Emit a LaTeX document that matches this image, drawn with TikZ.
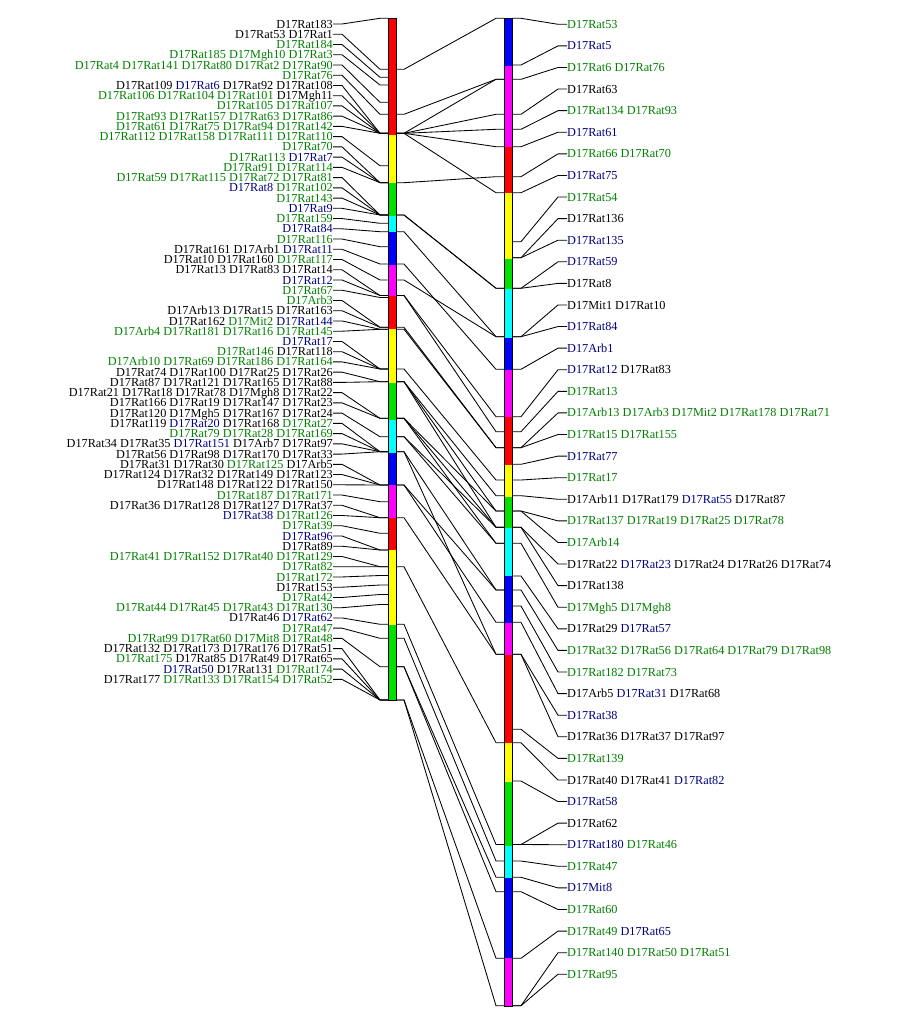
\documentclass[tikz,border=0pt]{standalone}
\usepackage{fontspec}
\setmainfont{Liberation Serif}
\usetikzlibrary{calc}
\definecolor{tg}{RGB}{0,128,0}
\definecolor{tb}{RGB}{0,0,128}
\definecolor{bred}{RGB}{255,0,0}
\definecolor{byel}{RGB}{255,255,0}
\definecolor{bgrn}{RGB}{0,224,0}
\definecolor{bcya}{RGB}{0,255,255}
\definecolor{bblu}{RGB}{0,0,255}
\definecolor{bmag}{RGB}{255,0,255}
\newcommand{\cG}[1]{\textcolor{tg}{#1}}
\newcommand{\cB}[1]{\textcolor{tb}{#1}}
\begin{document}
\begin{tikzpicture}[x=1pt,y=-1pt,
  lab/.style={inner sep=0pt, font=\fontsize{12.25}{14}\selectfont, text height=8.1pt, text depth=0pt},
  con/.style={line width=0.85pt, black},
  barframe/.style={line width=1pt, black}]
\useasboundingbox[fill=white] (0,0) rectangle (900,1025);

% ---------- left map labels ----------
\foreach \i/\m/\txt in {
1/18.3/{D17Rat183},
2/69.3/{D17Rat53 D17Rat1},
3/77.3/{\cG{D17Rat184}},
4/85/{\cG{D17Rat185 D17Mgh10 D17Rat3}},
5/102.3/{\cG{D17Rat4 D17Rat141 D17Rat80 D17Rat2 D17Rat90}},
6/114.3/{\cG{D17Rat76}},
7/133.3/{D17Rat109 \cB{D17Rat6} D17Rat92 D17Rat108},
8/133.3/{\cG{D17Rat106 D17Rat104 D17Rat101} D17Mgh11},
9/133.3/{\cG{D17Rat105 D17Rat107}},
10/133.3/{\cG{D17Rat93 D17Rat157 D17Rat63 D17Rat86}},
11/133.3/{\cG{D17Rat61 D17Rat75 D17Rat94 D17Rat142}},
12/165.7/{\cG{D17Rat112 D17Rat158 D17Rat111 D17Rat110}},
13/182.7/{\cG{D17Rat70}},
14/182.7/{\cG{D17Rat113} \cB{D17Rat7}},
15/182.7/{\cG{D17Rat91 D17Rat114}},
16/215/{\cG{D17Rat59 D17Rat115 D17Rat72 D17Rat81}},
17/215/{\cB{D17Rat8} \cG{D17Rat102}},
18/215/{\cG{D17Rat143}},
19/215/{\cB{D17Rat9}},
20/223.3/{\cG{D17Rat159}},
21/231.7/{\cB{D17Rat84}},
22/246.7/{\cG{D17Rat116}},
23/264/{D17Rat161 D17Arb1 \cB{D17Rat11}},
24/280/{D17Rat10 D17Rat160 \cG{D17Rat117}},
25/295.5/{D17Rat13 D17Rat83 D17Rat14},
26/295.5/{\cB{D17Rat12}},
27/297.5/{\cG{D17Rat67}},
28/327.3/{\cG{D17Arb3}},
29/327.3/{D17Arb13 D17Rat15 D17Rat163},
30/329.3/{D17Rat162 \cG{D17Mit2} \cB{D17Rat144}},
31/329.3/{\cG{D17Arb4 D17Rat181 D17Rat16 D17Rat145}},
32/369/{\cB{D17Rat17}},
33/369/{\cG{D17Rat146} D17Rat118},
34/369/{\cG{D17Arb10 D17Rat69 D17Rat186 D17Rat164}},
35/381.7/{D17Rat74 D17Rat100 D17Rat25 D17Rat26},
36/381.7/{D17Rat87 D17Rat121 D17Rat165 D17Rat88},
37/418.3/{D17Rat21 D17Rat18 D17Rat78 D17Mgh8 D17Rat22},
38/418.3/{D17Rat166 D17Rat19 D17Rat147 D17Rat23},
39/436.7/{D17Rat120 D17Mgh5 D17Rat167 D17Rat24},
40/451.7/{D17Rat119 \cB{D17Rat20} D17Rat168 \cG{D17Rat27}},
41/451.7/{\cG{D17Rat79 D17Rat28 D17Rat169}},
42/451.7/{D17Rat34 D17Rat35 \cB{D17Rat151} D17Arb7 D17Rat97},
43/451.7/{D17Rat56 D17Rat98 D17Rat170 D17Rat33},
44/485/{D17Rat31 D17Rat30 \cG{D17Rat125} D17Arb5},
45/485/{D17Rat124 D17Rat32 D17Rat149 D17Rat123},
46/485/{D17Rat148 D17Rat122 D17Rat150},
47/501.7/{\cG{D17Rat187 D17Rat171}},
48/517.7/{D17Rat36 D17Rat128 D17Rat127 D17Rat37},
49/517.7/{\cB{D17Rat38} \cG{D17Rat126}},
50/533.3/{\cG{D17Rat39}},
51/550/{\cB{D17Rat96}},
52/550/{D17Rat89},
53/566.7/{\cG{D17Rat41 D17Rat152 D17Rat40 D17Rat129}},
54/566.7/{\cG{D17Rat82}},
55/575.5/{\cG{D17Rat172}},
56/585/{D17Rat153},
57/594.5/{\cG{D17Rat42}},
58/604.5/{\cG{D17Rat44 D17Rat45 D17Rat43 D17Rat130}},
59/624.3/{D17Rat46 \cB{D17Rat62}},
60/638.3/{\cG{D17Rat47}},
61/666.7/{\cG{D17Rat99 D17Rat60 D17Mit8 D17Rat48}},
62/700/{D17Rat132 D17Rat173 D17Rat176 D17Rat51},
63/700/{\cG{D17Rat175} D17Rat85 D17Rat49 D17Rat65},
64/700/{\cB{D17Rat50} D17Rat131 \cG{D17Rat174}},
65/700/{D17Rat177 \cG{D17Rat133 D17Rat154 D17Rat52}}
}{
  \node[lab, anchor=east] (L\i) at (333,{24+10.24*(\i-1)}) {\txt};
  \coordinate (lm\i) at (388,\m);
  \draw[con] (L\i.east) -- ++(9,0) -- ([xshift=-8pt]lm\i) -- (lm\i);
}

% ---------- right map labels ----------
\foreach \j/\m/\txt in {
1/18.3/{\cG{D17Rat53}},
2/65/{\cB{D17Rat5}},
3/79.3/{\cG{D17Rat6 D17Rat76}},
4/114.3/{D17Rat63},
5/129.3/{\cG{D17Rat134 D17Rat93}},
6/146.7/{\cB{D17Rat61}},
7/176.7/{\cG{D17Rat66 D17Rat70}},
8/192.7/{\cB{D17Rat75}},
9/241.7/{\cG{D17Rat54}},
10/257.7/{D17Rat136},
11/257.7/{\cB{D17Rat135}},
12/288.3/{\cB{D17Rat59}},
13/288.3/{D17Rat8},
14/336.7/{D17Mit1 D17Rat10},
15/336.7/{\cB{D17Rat84}},
16/369.3/{\cB{D17Arb1}},
17/416.7/{\cB{D17Rat12} D17Rat83},
18/431.7/{\cG{D17Rat13}},
19/447.7/{\cG{D17Arb13 D17Arb3 D17Mit2 D17Rat178 D17Rat71}},
20/447.7/{\cG{D17Rat15 D17Rat155}},
21/464.3/{\cB{D17Rat77}},
22/480/{\cG{D17Rat17}},
23/495.7/{D17Arb11 D17Rat179 \cB{D17Rat55} D17Rat87},
24/511/{\cG{D17Rat137 D17Rat19 D17Rat25 D17Rat78}},
25/511/{\cG{D17Arb14}},
26/527.3/{D17Rat22 \cB{D17Rat23} D17Rat24 D17Rat26 D17Rat74},
27/527.3/{D17Rat138},
28/543.3/{\cG{D17Mgh5 D17Mgh8}},
29/576/{D17Rat29 \cB{D17Rat57}},
30/590/{\cG{D17Rat32 D17Rat56 D17Rat64 D17Rat79 D17Rat98}},
31/606/{\cG{D17Rat182 D17Rat73}},
32/622.3/{D17Arb5 \cB{D17Rat31} D17Rat68},
33/654.3/{\cB{D17Rat38}},
34/654.3/{D17Rat36 D17Rat37 D17Rat97},
35/729.3/{\cG{D17Rat139}},
36/742.7/{D17Rat40 D17Rat41 \cB{D17Rat82}},
37/781/{\cB{D17Rat58}},
38/844.5/{D17Rat62},
39/844.5/{\cB{D17Rat180} \cG{D17Rat46}},
40/861/{\cG{D17Rat47}},
41/877.3/{\cB{D17Mit8}},
42/891.7/{\cG{D17Rat60}},
43/958.3/{\cG{D17Rat49} \cB{D17Rat65}},
44/1005.7/{\cG{D17Rat140 D17Rat50 D17Rat51}},
45/1005.7/{\cG{D17Rat95}}
}{
  \node[lab, anchor=west] (R\j) at (567,{24.3+21.59*(\j-1)}) {\txt};
  \coordinate (rm\j) at (512,\m);
  \draw[con] (rm\j) -- ++(9,0) -- ([xshift=-9pt]R\j.west) -- (R\j.west);
}

% ---------- links between the two maps ----------
\foreach \a/\b [count=\k] in {
69.3/18.3, 114.3/79.3, 133.3/79.3, 133.3/114.3, 133.3/129.3, 133.3/146.7,
133.3/192.7, 182.7/176.7, 215/288.3, 215/288.3, 231.7/336.7, 264/369.3,
280/336.7, 295.5/416.7, 295.5/431.7, 327.3/447.7, 329.3/447.7, 369/480,
381.7/495.7, 381.7/511, 381.7/527.3, 418.3/511, 418.3/527.3, 418.3/543.3,
436.7/527.3, 436.7/543.3, 451.7/590, 451.7/654.3, 485/590, 485/622.3,
517.7/654.3, 566.7/742.7, 624.3/844.5, 638.3/861, 666.7/877.3, 666.7/891.7,
700/958.3, 700/1005.7}{
  \coordinate (ka\k) at (396,\a);
  \coordinate (kb\k) at (504,\b);
  \draw[con] (ka\k) -- ++(8,0) -- ([xshift=-8pt]kb\k) -- (kb\k);
}

% ---------- left chromosome bar ----------
\foreach \a/\b/\c in {18.3/135/bred, 135/183.3/byel, 183.3/215.7/bgrn,
  215.7/231.7/bcya, 231.7/265/bblu, 265/295.7/bmag, 295.7/329.3/bred,
  329.3/383.3/byel, 383.3/420/bgrn, 420/452.7/bcya, 452.7/485/bblu,
  485/518.3/bmag, 518.3/550/bred, 550/625/byel, 625/700/bgrn}{
  \fill[\c] (388,\a) rectangle (396,\b);
}
\draw[barframe] (388,18.3) rectangle (396,700);

% ---------- right chromosome bar ----------
\foreach \a/\b/\c in {18.3/66/bblu, 66/146.7/bmag, 146.7/193.3/bred,
  193.3/259/byel, 259/289.3/bgrn, 289.3/337.7/bcya, 337.7/370/bblu,
  370/417.3/bmag, 417.3/465/bred, 465/497.3/byel, 497.3/528/bgrn,
  528/576/bcya, 576/623/bblu, 623/655/bmag, 655/743/bred, 743/782/byel,
  782/846/bgrn, 846/878/bcya, 878/958.3/bblu, 958.3/1006.7/bmag}{
  \fill[\c] (504,\a) rectangle (512,\b);
}
\draw[barframe] (504,18.3) rectangle (512,1006.7);
\end{tikzpicture}
\end{document}
